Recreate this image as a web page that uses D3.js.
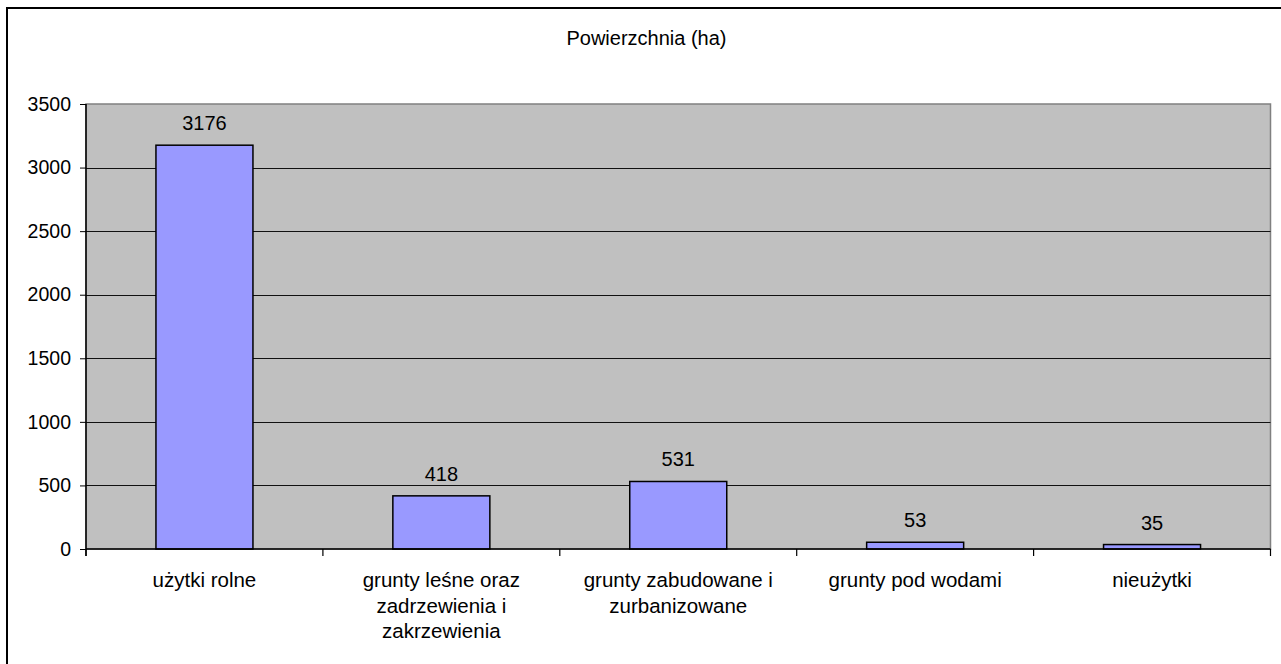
<!DOCTYPE html>
<html>
<head>
<meta charset="utf-8">
<script src="https://cdn.jsdelivr.net/npm/d3@7/dist/d3.min.js"></script>
<style>
  html, body { margin: 0; padding: 0; background: #fff; }
  svg { display: block; }
  text { font-family: "Liberation Sans", Arial, sans-serif; fill: #000; }
</style>
</head>
<body>
<svg id="chart" width="1281" height="664"></svg>
<script>
const title = "Powierzchnia (ha)";
const categories = [
  ["użytki rolne"],
  ["grunty leśne oraz", "zadrzewienia i", "zakrzewienia"],
  ["grunty zabudowane i", "zurbanizowane"],
  ["grunty pod wodami"],
  ["nieużytki"]
];
const values = [3176, 418, 531, 53, 35];
const yTicks = [0, 500, 1000, 1500, 2000, 2500, 3000, 3500];

const svg = d3.select("#chart");
const W = 1281, H = 664;

// outer chart border (right/bottom edges fall outside the picture)
svg.append("rect")
  .attr("x", 7).attr("y", 8).attr("width", W + 10).attr("height", H + 10)
  .attr("fill", "#fff").attr("stroke", "#000").attr("stroke-width", 2);

const plot = { left: 86, top: 104, right: 1270.5, bottom: 549 };

const x = d3.scaleBand()
  .domain(d3.range(categories.length))
  .range([plot.left, plot.right])
  .paddingInner(0).paddingOuter(0);
const y = d3.scaleLinear().domain([0, 3500]).range([plot.bottom, plot.top]);

// plot background
svg.append("rect")
  .attr("x", plot.left).attr("y", plot.top)
  .attr("width", plot.right - plot.left).attr("height", plot.bottom - plot.top)
  .attr("fill", "#C0C0C0").attr("stroke", "#808080").attr("stroke-width", 1.5);

// gridlines
svg.append("g").selectAll("line")
  .data(yTicks.filter(t => t > 0 && t < 3500))
  .join("line")
  .attr("x1", plot.left).attr("x2", plot.right)
  .attr("y1", d => Math.round(y(d)) + 0.5).attr("y2", d => Math.round(y(d)) + 0.5)
  .attr("stroke", "#111").attr("stroke-width", 1);

// bars
const barW = 97;
svg.append("g").selectAll("rect")
  .data(values)
  .join("rect")
  .attr("x", (d, i) => x(i) + x.bandwidth() / 2 - barW / 2)
  .attr("y", d => y(d))
  .attr("width", barW)
  .attr("height", d => y(0) - y(d))
  .attr("fill", "#9999FF")
  .attr("stroke", "#000").attr("stroke-width", 1.5);

// value labels
svg.append("g").selectAll("text")
  .data(values)
  .join("text")
  .attr("x", (d, i) => x(i) + x.bandwidth() / 2)
  .attr("y", d => y(d) - 15)
  .attr("text-anchor", "middle")
  .style("font-size", "20px")
  .text(d => d);

// y axis
const yAxis = d3.axisLeft(y).tickValues(yTicks).tickSize(6).tickPadding(9).tickFormat(d3.format("d"));
const gy = svg.append("g").attr("transform", `translate(${plot.left},0)`).call(yAxis);
gy.select(".domain").attr("stroke", "#000").attr("stroke-width", 1.5)
  .attr("d", `M0,${plot.top}V${plot.bottom + 7}`);
gy.selectAll(".tick line").attr("stroke", "#000");
gy.selectAll(".tick text").style("font-size", "19.5px").style("font-family", '"Liberation Sans", Arial, sans-serif').attr("fill", "#000");

// x axis baseline and ticks at category boundaries
svg.append("line")
  .attr("x1", plot.left).attr("x2", plot.right)
  .attr("y1", plot.bottom).attr("y2", plot.bottom)
  .attr("stroke", "#000").attr("stroke-width", 1.5);
const bounds = d3.range(categories.length + 1).map(i => i < categories.length ? x(i) : plot.right);
svg.append("g").selectAll("line")
  .data(bounds)
  .join("line")
  .attr("x1", d => d).attr("x2", d => d)
  .attr("y1", plot.bottom).attr("y2", plot.bottom + 7)
  .attr("stroke", "#000").attr("stroke-width", 1.2);

// category labels
const lab = svg.append("g").selectAll("text")
  .data(categories)
  .join("text")
  .attr("text-anchor", "middle")
  .style("font-size", "20.5px");
lab.each(function(lines, i) {
  const t = d3.select(this);
  lines.forEach((ln, k) => {
    t.append("tspan")
      .attr("x", x(i) + x.bandwidth() / 2)
      .attr("y", 587 + k * 25.7)
      .text(ln);
  });
});

// title
svg.append("text")
  .attr("x", 646.5).attr("y", 45)
  .attr("text-anchor", "middle")
  .style("font-size", "20px")
  .text(title);
</script>
</body>
</html>
